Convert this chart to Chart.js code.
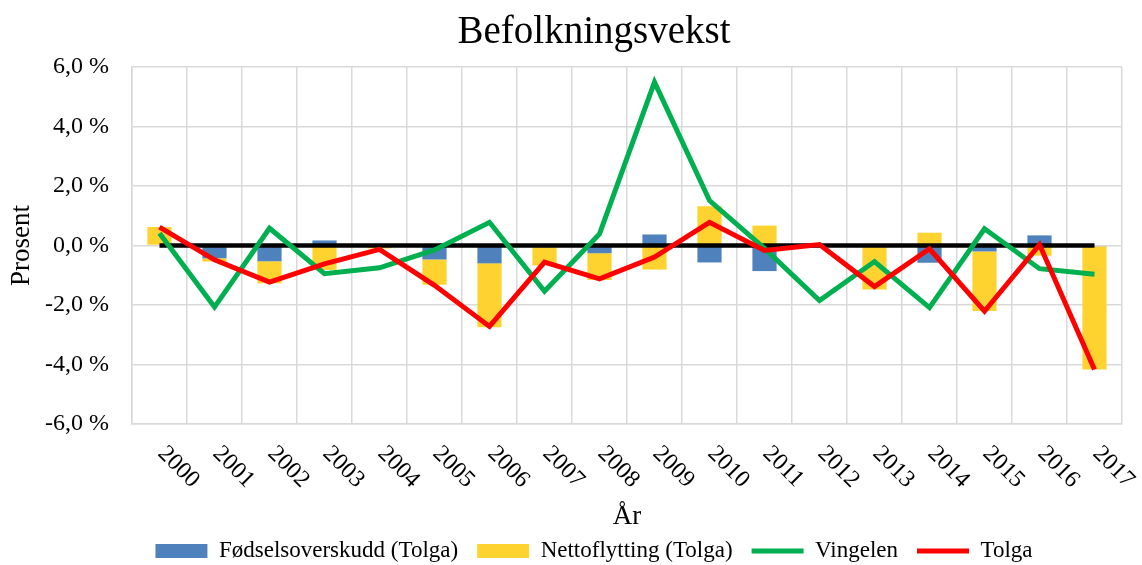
<!DOCTYPE html>
<html lang="no">
  <head>
    <meta charset="UTF-8">
    <title>Befolkningsvekst</title>
    <style>
      html, body { margin: 0; padding: 0; background: #fff; }
      #boks { width: 1142px; height: 565px; }
    </style>
  </head>
  <body>
    <div id="boks"><canvas id="myChart"></canvas></div>
    <script src="https://cdn.jsdelivr.net/npm/chart.js"></script>
    <script>

const aar = ['2000', '2001', '2002', '2003', '2004', '2005', '2006', '2007', '2008',
             '2009', '2010', '2011', '2012', '2013', '2014', '2015', '2016', '2017'];

// prosent, lest av bildet
const fodselsoverskudd = [0, -0.43, -0.53, 0.17, 0, -0.47, -0.6, 0, -0.26,
                          0.37, -0.57, -0.86, 0, 0, -0.58, -0.2, 0.34, -0.03];
const nettoflytting = [0.62, -0.11, -0.74, -0.82, -0.1, -0.85, -2.15, -0.67, -0.9,
                       -0.81, 1.32, 0.67, 0, -1.48, 0.43, -2.0, -0.34, -4.14];
const vingelen = [0.41, -2.07, 0.58, -0.95, -0.75, -0.15, 0.78, -1.54, 0.39,
                  5.49, 1.51, -0.1, -1.85, -0.54, -2.09, 0.56, -0.78, -0.97];
const tolga = [0.62, -0.48, -1.23, -0.62, -0.13, -1.34, -2.72, -0.56, -1.12,
               -0.39, 0.78, -0.17, 0.03, -1.38, -0.11, -2.21, 0.03, -4.17];
const nullLinje = [0, 0, 0, 0, 0, 0, 0, 0, 0, 0, 0, 0, 0, 0, 0, 0, 0, 0];

const yMin = -6;
const yMax = 6;
const yStep = 2;

const skrift = '"Liberation Serif", "Times New Roman", serif';

// årstall skrått nedover mot høyre, som i originalen
const aarEtiketter = {
  id: 'aarEtiketter',
  afterDraw(chart) {
    const { ctx } = chart;
    const x = chart.scales.x;
    ctx.save();
    ctx.font = '24px ' + skrift;
    ctx.fillStyle = '#000';
    ctx.textAlign = 'left';
    ctx.textBaseline = 'middle';
    aar.forEach((a, i) => {
      ctx.save();
      ctx.translate(x.getPixelForValue(i) + 2, x.top + 26);
      ctx.rotate(Math.PI / 4);
      ctx.fillText(a, 0, 0);
      ctx.restore();
    });
    ctx.restore();
  }
};

const data = {
  labels: aar,
  datasets: [
    {
      type: 'bar',
      label: 'Fødselsoverskudd (Tolga)',
      data: fodselsoverskudd,
      backgroundColor: '#4f81bd',
      stack: 'tolgaStolper',
      order: 3,
      barPercentage: 0.44,
      categoryPercentage: 1
    },
    {
      type: 'bar',
      label: 'Nettoflytting (Tolga)',
      data: nettoflytting,
      backgroundColor: '#ffd32f',
      stack: 'tolgaStolper',
      order: 3,
      barPercentage: 0.44,
      categoryPercentage: 1
    },
    {
      type: 'line',
      label: 'Vingelen',
      data: vingelen,
      borderColor: '#00b050',
      backgroundColor: '#00b050',
      borderWidth: 5,
      pointRadius: 0,
      tension: 0,
      stack: 'v',
      order: 1
    },
    {
      type: 'line',
      label: 'Tolga',
      data: tolga,
      borderColor: '#ff0000',
      backgroundColor: '#ff0000',
      borderWidth: 5,
      pointRadius: 0,
      tension: 0,
      stack: 't',
      order: 0
    },
    {
      type: 'line',
      label: '',
      data: nullLinje,
      borderColor: '#000000',
      borderWidth: 4.5,
      pointRadius: 0,
      stack: 'n',
      order: 2
    }
  ]
};

const config = {
  type: 'bar',
  data,
  plugins: [aarEtiketter],
  options: {
    responsive: true,
    maintainAspectRatio: false,
    animation: false,
    layout: { padding: { left: 0, right: -46, top: 0, bottom: -7.5 } },
    plugins: {
      tooltip: { enabled: false },
      title: {
        display: true,
        text: 'Befolkningsvekst',
        color: '#000',
        font: { family: skrift, size: 39, weight: 'normal' },
        padding: { top: 9, bottom: 11.2 }
      },
      legend: {
        position: 'bottom',
        labels: {
          color: '#000',
          font: { family: skrift, size: 23 },
          usePointStyle: true,
          pointStyleWidth: 52,
          boxHeight: 14,
          padding: 19,
          generateLabels: chart => chart.data.datasets
            .map((ds, i) => ({
              text: ds.label,
              fillStyle: ds.type === 'line' ? ds.borderColor : ds.backgroundColor,
              strokeStyle: ds.type === 'line' ? ds.borderColor : ds.backgroundColor,
              lineWidth: ds.type === 'line' ? 5 : 0,
              pointStyle: ds.type === 'line' ? 'line' : 'rect',
              hidden: false,
              datasetIndex: i
            }))
            .filter(l => l.text)
        }
      }
    },
    scales: {
      x: {
        stacked: true,
        offset: true,
        grid: { color: '#d9d9d9', lineWidth: 1.5, offset: true, drawTicks: false },
        border: { color: '#d9d9d9', width: 1.5 },
        ticks: { display: false },
        title: {
          display: true,
          text: 'År',
          color: '#000',
          font: { family: skrift, size: 27 },
          padding: { top: 0, bottom: -12.7 }
        },
        afterFit: scale => { scale.height = 96.5; }
      },
      y: {
        stacked: true,
        min: yMin,
        max: yMax,
        grid: { color: '#d9d9d9', lineWidth: 1.5, drawTicks: false },
        border: { color: '#d9d9d9', width: 1.5 },
        ticks: {
          stepSize: yStep,
          padding: 23,
          color: '#000',
          font: { family: skrift, size: 24 },
          callback: v => v.toFixed(1).replace('.', ',') + ' %'
        },
        title: {
          display: true,
          text: 'Prosent',
          color: '#000',
          font: { family: skrift, size: 27 },
          padding: { top: 6, bottom: 0 }
        },
        afterFit: scale => { scale.width = 132; }
      },
      // tom akse til høyre, bare for å holde plass slik at tittel og forklaring sentreres som i originalen
      hoyre: {
        type: 'linear',
        position: 'right',
        grid: { display: false },
        border: { display: false },
        ticks: { display: false },
        afterFit: scale => { scale.width = 66; }
      }
    }
  }
};

const myChart = new Chart(document.getElementById('myChart'), config);

</script>
  </body>
</html>
